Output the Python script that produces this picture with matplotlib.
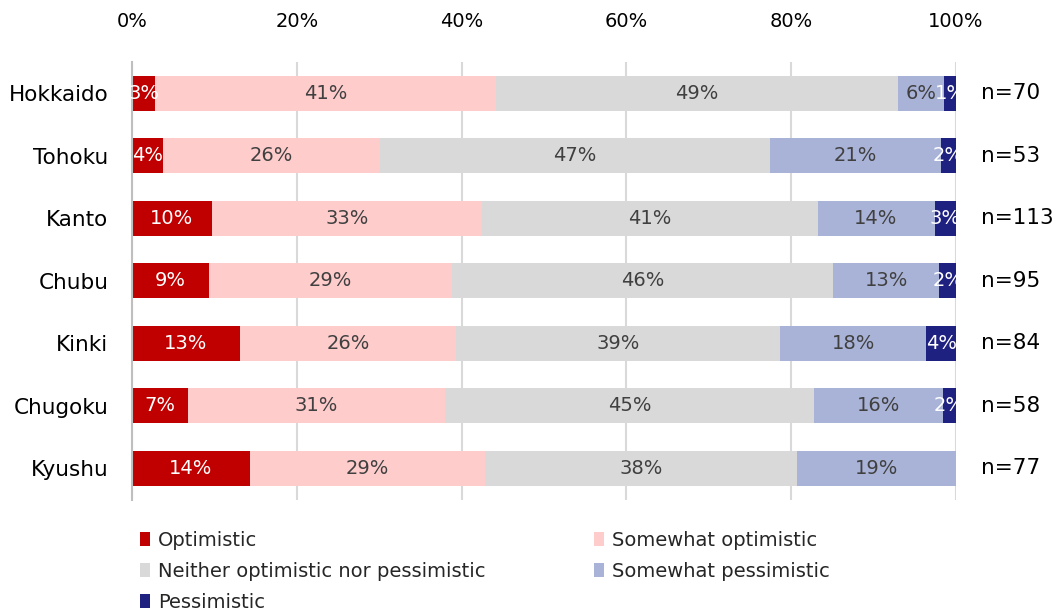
import matplotlib
matplotlib.use("Agg")
import matplotlib.pyplot as plt
from matplotlib.patches import Patch
import numpy as np

regions = ["Hokkaido", "Tohoku", "Kanto", "Chubu", "Kinki", "Chugoku", "Kyushu"]
sample_sizes = [70, 53, 113, 95, 84, 58, 77]

categories = ["Optimistic", "Somewhat optimistic",
              "Neither optimistic nor pessimistic",
              "Somewhat pessimistic", "Pessimistic"]
optimistic = [2.8, 3.7, 9.7, 9.4, 13.1, 6.8, 14.3]
somewhat_optimistic = [41.4, 26.4, 32.8, 29.4, 26.2, 31.2, 28.6]
neither = [48.8, 47.3, 40.7, 46.3, 39.4, 44.8, 37.8]
somewhat_pessimistic = [5.6, 20.8, 14.2, 12.9, 17.7, 15.6, 19.3]
pessimistic = [1.4, 1.8, 2.6, 2.0, 3.6, 1.6, 0.0]

colors = ["#C00000", "#FFCCCC", "#D9D9D9", "#A9B3D7", "#1F2181"]
text_colors = ["white", "#404040", "#404040", "#404040", "white"]

series = [optimistic, somewhat_optimistic, neither,
          somewhat_pessimistic, pessimistic]

plt.rcParams["font.family"] = "DejaVu Sans"

fig = plt.figure(figsize=(10.57, 6.15), dpi=100)
ax = fig.add_axes([0.1249, 0.1878, 0.7795, 0.7114])

y = np.arange(len(regions))
left = np.zeros(len(regions))
for vals, col, tcol in zip(series, colors, text_colors):
    vals = np.array(vals)
    ax.barh(y, vals, left=left, height=0.56, color=col, zorder=2)
    for yi, l, v in zip(y, left, vals):
        if v > 0:
            ax.text(l + v / 2, yi, f"{round(v)}%", ha="center", va="center",
                    fontsize=14, color=tcol, zorder=3)
    left += vals

for yi, n in zip(y, sample_sizes):
    ax.text(103, yi, f"n={n}", ha="left", va="center", fontsize=15.5,
            color="black")

ax.set_xlim(0, 100)
ax.set_ylim(len(regions) - 0.5, -0.5)
ax.set_xticks([0, 20, 40, 60, 80, 100])
ax.set_xticklabels([f"{t}%" for t in [0, 20, 40, 60, 80, 100]])
ax.xaxis.tick_top()
ax.tick_params(axis="x", length=0, pad=22, labelsize=14)
ax.set_yticks(y)
ax.set_yticklabels(regions)
ax.tick_params(axis="y", length=0, pad=17, labelsize=15.5)
ax.grid(axis="x", color="#D9D9D9", linewidth=1.5, zorder=0)
for side in ["top", "right", "bottom"]:
    ax.spines[side].set_visible(False)
ax.spines["left"].set_color("#BFBFBF")
ax.spines["left"].set_linewidth(1.5)

# two-column legend below the plot, filled column by column
handles = [Patch(facecolor=c) for c in colors]
order = [0, 2, 4, 1, 3]
fig.legend([handles[i] for i in order], [categories[i] for i in order],
           ncol=2, loc="upper left", bbox_to_anchor=(0.123, 0.153),
           frameon=False, fontsize=14, handlelength=0.55, handleheight=0.7,
           handletextpad=0.4, columnspacing=5.55, labelspacing=0.62,
           borderpad=0, labelcolor="#262626")

fig.savefig("out.png", dpi=100)
